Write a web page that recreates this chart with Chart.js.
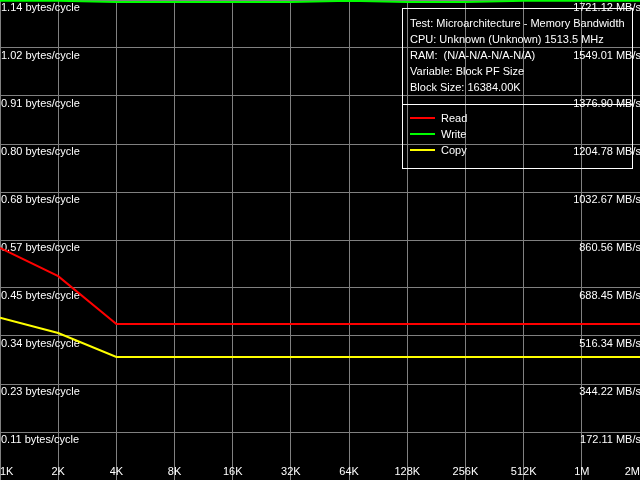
<!DOCTYPE html>
<html>
<head>
<meta charset="utf-8">
<script src="https://cdn.jsdelivr.net/npm/chart.js@4/dist/chart.umd.min.js"></script>
<style>
  html, body { margin: 0; padding: 0; background: #000; }
  #wrap { width: 640px; height: 480px; }
</style>
</head>
<body>
<div id="wrap"><canvas id="myChart"></canvas></div>
<script>
// block sizes along the x axis
const sizeLabels = ['1K', '2K', '4K', '8K', '16K', '32K', '64K', '128K', '256K', '512K', '1M', '2M'];

// bandwidth in MB/s
const readMBs = [832, 731, 559, 559, 559, 559, 559, 559, 559, 559, 559, 559];
const writeMBs = [1718, 1718, 1714, 1714, 1714, 1714, 1718, 1714, 1714, 1718, 1718, 1718];
const copyMBs = [582, 527, 441, 441, 441, 441, 441, 441, 441, 441, 441, 441];

// tick values and the two label sets
const tickValues = [172.11, 344.22, 516.34, 688.45, 860.56, 1032.67, 1204.78, 1376.90, 1549.01, 1721.12];
const cycleLabels = ['0.11 bytes/cycle', '0.23 bytes/cycle', '0.34 bytes/cycle', '0.45 bytes/cycle', '0.57 bytes/cycle',
  '0.68 bytes/cycle', '0.80 bytes/cycle', '0.91 bytes/cycle', '1.02 bytes/cycle', '1.14 bytes/cycle'];
const rateLabels = ['172.11 MB/s', '344.22 MB/s', '516.34 MB/s', '688.45 MB/s', '860.56 MB/s',
  '1032.67 MB/s', '1204.78 MB/s', '1376.90 MB/s', '1549.01 MB/s', '1721.12 MB/s'];

const infoLines = [
  'Test: Microarchitecture - Memory Bandwidth',
  'CPU: Unknown (Unknown) 1513.5 MHz',
  'RAM:  (N/A-N/A-N/A-N/A)',
  'Variable: Block PF Size',
  'Block Size: 16384.00K'
];

const FONT = '"Liberation Sans", Arial, sans-serif';
const GRID = '#808080';

// info box + legend in the top right corner
const infoBox = {
  id: 'infoBox',
  afterDraw(chart) {
    const ctx = chart.ctx;
    ctx.save();
    ctx.strokeStyle = '#fff';
    ctx.lineWidth = 1;
    ctx.strokeRect(402.5, 8.5, 230, 160);
    ctx.beginPath();
    ctx.moveTo(402.5, 104.5);
    ctx.lineTo(632.5, 104.5);
    ctx.stroke();

    ctx.font = '11px ' + FONT;
    ctx.fillStyle = '#fff';
    ctx.textBaseline = 'middle';
    infoLines.forEach((t, i) => ctx.fillText(t, 410, 24 + i * 16));

    chart.data.datasets.forEach((ds, i) => {
      const y = 119 + i * 16;
      ctx.strokeStyle = ds.borderColor;
      ctx.lineWidth = 2;
      ctx.beginPath();
      ctx.moveTo(410, y - 1);
      ctx.lineTo(435, y - 1);
      ctx.stroke();
      ctx.fillStyle = '#fff';
      ctx.fillText(ds.label, 441, y);
    });
    ctx.restore();
  }
};

const setTicks = scale => {
  scale.ticks = tickValues.map(v => ({ value: v }));
};

// axes take no room, labels sit inside the plot
const flat = s => {
  if (s.isHorizontal()) s.height = 0; else s.width = 0;
  s.paddingTop = 0;
  s.paddingBottom = 0;
  s.paddingLeft = 0;
  s.paddingRight = 0;
};

const ctx = document.getElementById('myChart').getContext('2d');
new Chart(ctx, {
  type: 'line',
  data: {
    labels: sizeLabels,
    datasets: [
      { label: 'Read', data: readMBs, borderColor: '#ff0000' },
      { label: 'Write', data: writeMBs, borderColor: '#00ff00' },
      { label: 'Copy', data: copyMBs, borderColor: '#ffff00' }
    ]
  },
  options: {
    responsive: true,
    maintainAspectRatio: false,
    animation: false,
    layout: { padding: 0 },
    elements: {
      line: { borderWidth: 2, tension: 0 },
      point: { radius: 0 }
    },
    plugins: {
      legend: { display: false },
      tooltip: { enabled: false }
    },
    scales: {
      x: {
        type: 'category',
        offset: false,
        grid: { color: GRID, drawTicks: false },
        border: { display: false },
        ticks: {
          color: '#fff',
          font: { family: FONT, size: 11 },
          mirror: true,
          padding: 1,
          align: 'inner',
          maxRotation: 0,
          autoSkip: false
        },
        afterFit: flat
      },
      y: {
        position: 'left',
        min: 0,
        max: 1721.12,
        grid: { color: GRID, drawTicks: false },
        border: { display: false },
        afterBuildTicks: setTicks,
        ticks: {
          color: '#fff',
          font: { family: FONT, size: 11 },
          mirror: true,
          padding: 1,
          labelOffset: 8,
          callback: (v, i) => cycleLabels[i]
        },
        afterFit: flat
      },
      y1: {
        position: 'right',
        min: 0,
        max: 1721.12,
        grid: { display: false, drawTicks: false },
        border: { display: false },
        afterBuildTicks: setTicks,
        ticks: {
          color: '#fff',
          font: { family: FONT, size: 11 },
          mirror: true,
          padding: 1,
          labelOffset: 8,
          callback: (v, i) => rateLabels[i]
        },
        afterFit: flat
      }
    }
  },
  plugins: [infoBox]
});
</script>
</body>
</html>
